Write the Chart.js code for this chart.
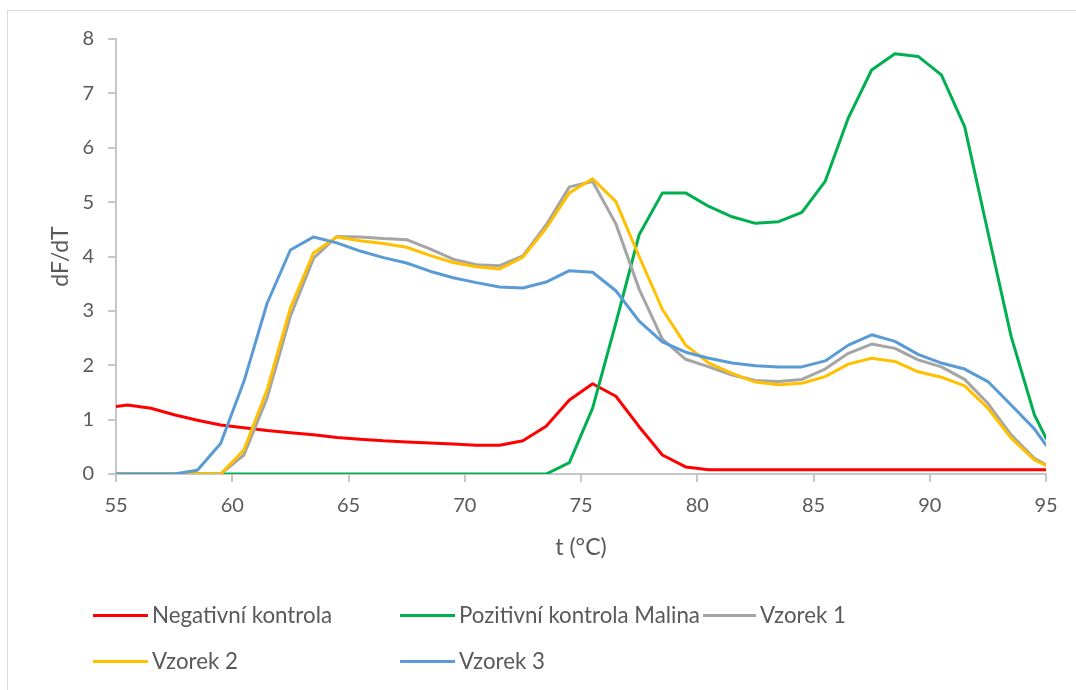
<!DOCTYPE html>
<html>
<head>
<meta charset="utf-8">
<script src="https://cdn.jsdelivr.net/npm/chart.js@4.4.1/dist/chart.umd.min.js"></script>
<style>
  html, body { margin: 0; padding: 0; background: #ffffff; }
  #wrap { position: relative; width: 1076px; height: 690px; overflow: hidden; background: #fff; }
  #frame { position: absolute; left: 7px; top: 10px; width: 1200px; height: 800px; border: 1px solid #d9d9d9; box-sizing: border-box; }
  canvas { position: absolute; left: 0; top: 0; }
  .lg { position: absolute; font-family: Lato, "Open Sans", sans-serif; font-size: 22.3px; color: #595959; white-space: nowrap; line-height: 26px; }
  .lg .sw { position: absolute; height: 3px; top: 11px; }
</style>
</head>
<body>
<div id="wrap">
  <div id="frame"></div>
  <canvas id="c" width="1076" height="690"></canvas>
  <div id="legend"></div>
</div>
<script>
// Temperatures (°C)
const temps = [55, 55.5, 56.5, 57.5, 58.5, 59.5, 60.5, 61.5, 62.5, 63.5, 64.5, 65.5, 66.5, 67.5, 68.5, 69.5, 70.5, 71.5, 72.5, 73.5, 74.5, 75.5, 76.5, 77.5, 78.5, 79.5, 80.5, 81.5, 82.5, 83.5, 84.5, 85.5, 86.5, 87.5, 88.5, 89.5, 90.5, 91.5, 92.5, 93.5, 94.5, 95];

const negativniKontrola = [1.24, 1.27, 1.21, 1.09, 0.99, 0.90, 0.85, 0.80, 0.76, 0.72, 0.67, 0.64, 0.61, 0.59, 0.57, 0.55, 0.53, 0.53, 0.61, 0.88, 1.36, 1.66, 1.43, 0.87, 0.35, 0.13, 0.08, 0.08, 0.08, 0.08, 0.08, 0.08, 0.08, 0.08, 0.08, 0.08, 0.08, 0.08, 0.08, 0.08, 0.08, 0.08];

const pozitivniKontrola = [0, 0, 0, 0, 0, 0, 0, 0, 0, 0, 0, 0, 0, 0, 0, 0, 0, 0, 0, 0, 0.21, 1.21, 2.78, 4.40, 5.17, 5.17, 4.92, 4.73, 4.61, 4.64, 4.81, 5.38, 6.55, 7.43, 7.73, 7.68, 7.34, 6.39, 4.45, 2.53, 1.09, 0.66];

const vzorek1 = [0, 0, 0, 0, 0, 0, 0.35, 1.40, 2.90, 3.97, 4.37, 4.36, 4.33, 4.31, 4.14, 3.95, 3.85, 3.83, 4.01, 4.58, 5.28, 5.38, 4.60, 3.40, 2.48, 2.11, 1.97, 1.82, 1.72, 1.70, 1.74, 1.93, 2.22, 2.39, 2.31, 2.10, 1.97, 1.74, 1.30, 0.72, 0.29, 0.17];

const vzorek2 = [0, 0, 0, 0, 0, 0, 0.44, 1.55, 3.05, 4.07, 4.36, 4.29, 4.24, 4.17, 4.02, 3.89, 3.81, 3.77, 3.99, 4.52, 5.17, 5.43, 5.01, 4.00, 3.03, 2.37, 2.04, 1.85, 1.69, 1.64, 1.67, 1.79, 2.02, 2.13, 2.07, 1.88, 1.78, 1.62, 1.21, 0.66, 0.26, 0.16];

const vzorek3 = [0, 0, 0, 0, 0.07, 0.56, 1.70, 3.14, 4.12, 4.36, 4.25, 4.10, 3.98, 3.88, 3.73, 3.61, 3.52, 3.44, 3.42, 3.53, 3.74, 3.71, 3.37, 2.81, 2.43, 2.24, 2.13, 2.04, 1.99, 1.97, 1.97, 2.08, 2.37, 2.56, 2.44, 2.20, 2.04, 1.93, 1.70, 1.27, 0.83, 0.53];

const seriesLabels = ["Negativní kontrola", "Pozitivní kontrola Malina", "Vzorek 1", "Vzorek 2", "Vzorek 3"];
const seriesValues = [negativniKontrola, pozitivniKontrola, vzorek1, vzorek2, vzorek3];
const seriesColors = ["#FF0000", "#00B050", "#A5A5A5", "#FFC000", "#5B9BD5"];

const xTitle = "t (°C)";
const yTitle = "dF/dT";

const FONT = "Lato, 'Open Sans', sans-serif";
const TXT = "#595959";
const AXIS = "#c6c6c6";

const datasets = seriesValues.map((vals, i) => ({
  label: seriesLabels[i],
  data: vals.map((v, k) => ({ x: temps[k], y: v })),
  borderColor: seriesColors[i],
  backgroundColor: seriesColors[i],
  borderWidth: 3,
  pointRadius: 0,
  tension: 0,
  borderJoinStyle: "round",
  borderCapStyle: "round",
  fill: false,
  order: seriesValues.length - i
}));

new Chart(document.getElementById("c"), {
  type: "line",
  data: { datasets },
  options: {
    responsive: false,
    devicePixelRatio: 1,
    animation: false,
    events: [],
    layout: { padding: { left: 47, top: 39, right: 30, bottom: 129 } },
    plugins: { legend: { display: false }, tooltip: { enabled: false } },
    scales: {
      x: {
        type: "linear",
        min: 55, max: 95,
        afterFit: (s) => { s.height = 87; },
        ticks: { stepSize: 5, color: TXT, font: { family: FONT, size: 20 }, padding: 12, maxRotation: 0 },
        grid: { display: true, drawOnChartArea: false, drawTicks: true, tickLength: 8, color: AXIS, lineWidth: 2 },
        border: { display: true, color: AXIS, width: 2 },
        title: { display: true, text: xTitle, color: TXT, font: { family: FONT, size: 23 }, padding: 0 }
      },
      y: {
        min: 0, max: 8,
        afterFit: (s) => { s.width = 69; },
        ticks: { stepSize: 1, color: TXT, font: { family: FONT, size: 20 }, padding: 14 },
        grid: { display: true, drawOnChartArea: false, drawTicks: true, tickLength: 8, color: AXIS, lineWidth: 2 },
        border: { display: true, color: AXIS, width: 2 },
        title: { display: true, text: yTitle, color: TXT, font: { family: FONT, size: 23 }, padding: 0 }
      }
    }
  }
});

// Legend (HTML) built from the series
const legendPos = [[93, 602], [400, 602], [703, 602], [93, 648], [400, 648]];
const legendSwatch = [55, 55, 53, 55, 55];
const lg = document.getElementById("legend");
seriesLabels.forEach((lab, i) => {
  const d = document.createElement("div");
  d.className = "lg";
  d.style.left = legendPos[i][0] + "px";
  d.style.top = legendPos[i][1] + "px";
  d.style.paddingLeft = (legendSwatch[i] + 4) + "px";
  const sw = document.createElement("span");
  sw.className = "sw";
  sw.style.left = "0px";
  sw.style.top = "12px";
  sw.style.width = legendSwatch[i] + "px";
  sw.style.background = seriesColors[i];
  d.appendChild(sw);
  d.appendChild(document.createTextNode(lab));
  lg.appendChild(d);
});
</script>
</body>
</html>
